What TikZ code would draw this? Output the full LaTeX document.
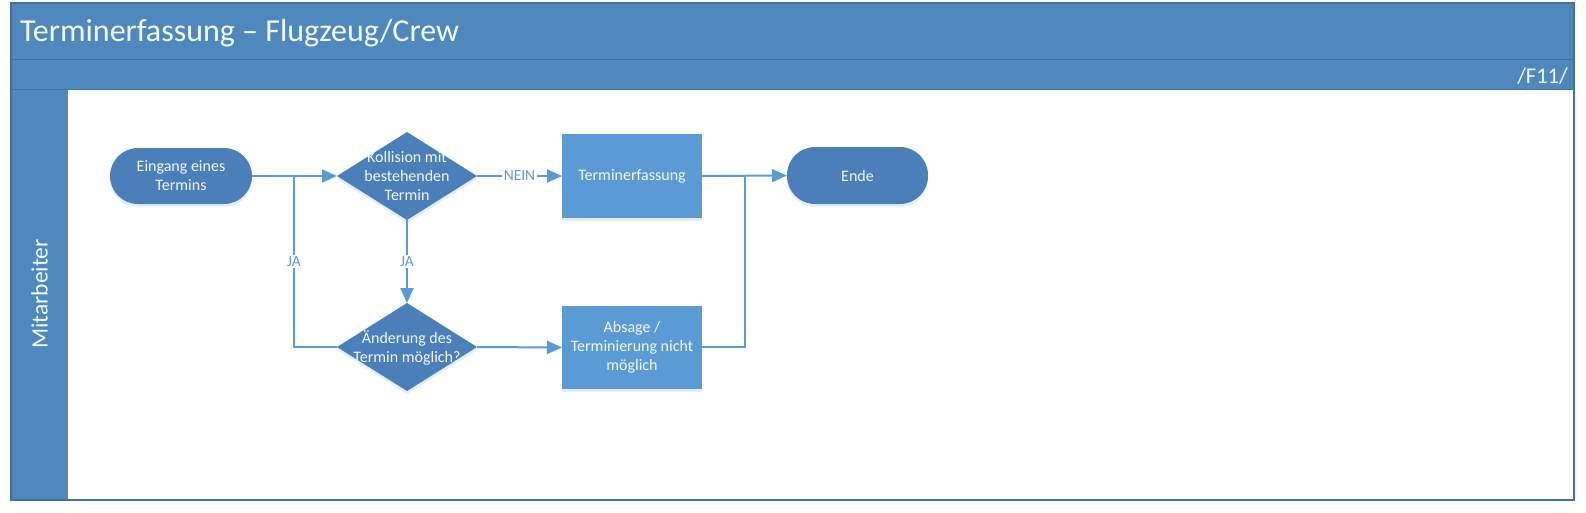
\documentclass[tikz,border=0pt]{standalone}
\usepackage{fontspec}
\setmainfont{Carlito}
\usetikzlibrary{shapes.geometric,arrows.meta,shadows}
\definecolor{band}{HTML}{4E88BC}
\definecolor{shapec}{HTML}{4A7FBA}
\definecolor{rectc}{HTML}{5B9BD5}
\definecolor{linec}{HTML}{5B9BD5}
\definecolor{framec}{HTML}{41719C}
\definecolor{txtc}{HTML}{F4F8FC}
\definecolor{shadc}{HTML}{DCEAF7}
\begin{document}
\begin{tikzpicture}[x=1pt,y=-1pt,
  nodefont/.style={font=\fontsize{16}{19}\selectfont},
  shad/.style={drop shadow={shadow xshift=0pt,shadow yshift=-3pt,fill=shadc,opacity=0.8}},
  term/.style={rectangle,rounded corners=28pt,fill=shapec,minimum width=142pt,minimum height=56pt,
    text=txtc,nodefont,align=center,inner sep=0pt,outer sep=0pt,shad},
  dec/.style={diamond,fill=shapec,minimum width=140pt,minimum height=88pt,inner sep=0pt,outer sep=0pt,shad},
  dectext/.style={text=txtc,nodefont,align=center,inner sep=0pt},
  proc/.style={rectangle,fill=rectc,minimum width=140pt,minimum height=84pt,text=txtc,nodefont,
    align=center,inner sep=0pt,outer sep=0pt,shad},
  conn/.style={draw=linec,line width=2pt,-{Triangle[length=15pt,width=13pt]}},
  plainln/.style={draw=linec,line width=2pt},
  lbl/.style={fill=white,text=linec,font=\fontsize{15.5}{18}\selectfont,inner sep=1.5pt}
]
\fill[white] (0,0) rectangle (1586,512);
\useasboundingbox (0,0) rectangle (1586,512);

% pool frame
\fill[band] (11,3) rectangle (1574,89);
\fill[band] (11,89) rectangle (68,500);
\draw[framec,line width=1pt] (11,59) -- (1574,59);
\draw[framec,line width=1pt] (11,89) -- (1574,89);
\draw[framec,line width=1.2pt] (11,3) rectangle (1574,500);

\node[anchor=base west,text=txtc,font=\fontsize{32}{37}\selectfont,inner sep=0pt] (title) at (20,41.5) {Terminerfassung – Flugzeug/Crew};
\node[anchor=base east,text=txtc,font=\fontsize{22.5}{26}\selectfont,inner sep=0pt] (fid) at (1568,83) {/F11/};
\node[rotate=90,text=txtc,font=\fontsize{23.5}{27}\selectfont,inner sep=0pt] (lane) at (39.5,294) {Mitarbeiter};

% shapes
\node[term] (start) at (181,176) {Eingang eines\\Termins};
\node[dec] (d1) at (407,176) {};
\node[dectext] (d1t) at (407,176) {Kollision mit\\bestehenden\\Termin};
\node[proc] (p1) at (632,176) {Terminerfassung};
\node[term,minimum width=141pt,minimum height=57pt] (ende) at (857.5,175.5) {Ende};
\node[dec] (d2) at (407,347) {};
\node[dectext] (d2t) at (407,348) {Änderung des\\Termin möglich?};
\node[proc,minimum height=83pt] (p2) at (632,347.5) {Absage /\\Terminierung nicht\\möglich};

\coordinate (j1) at (294,176);
\coordinate (j2) at (745,176);

% connectors
\draw[conn] (start.east) -- (d1.west);
\draw[plainln] (d2.west) -| (j1) node[lbl,pos=0.75] (ja1) {JA};
\draw[conn] (d1.south) -- node[lbl] (ja2) {JA} (d2.north);
\draw[conn] (d1.east) -- node[lbl] (nein) {NEIN} (p1.west);
\draw[conn] (d2.east) -- (p2.west);
\draw[conn] (p1.east) -- (ende.west);
\draw[plainln] (p2.east |- d2.east) -| (j2);
\end{tikzpicture}
\end{document}
